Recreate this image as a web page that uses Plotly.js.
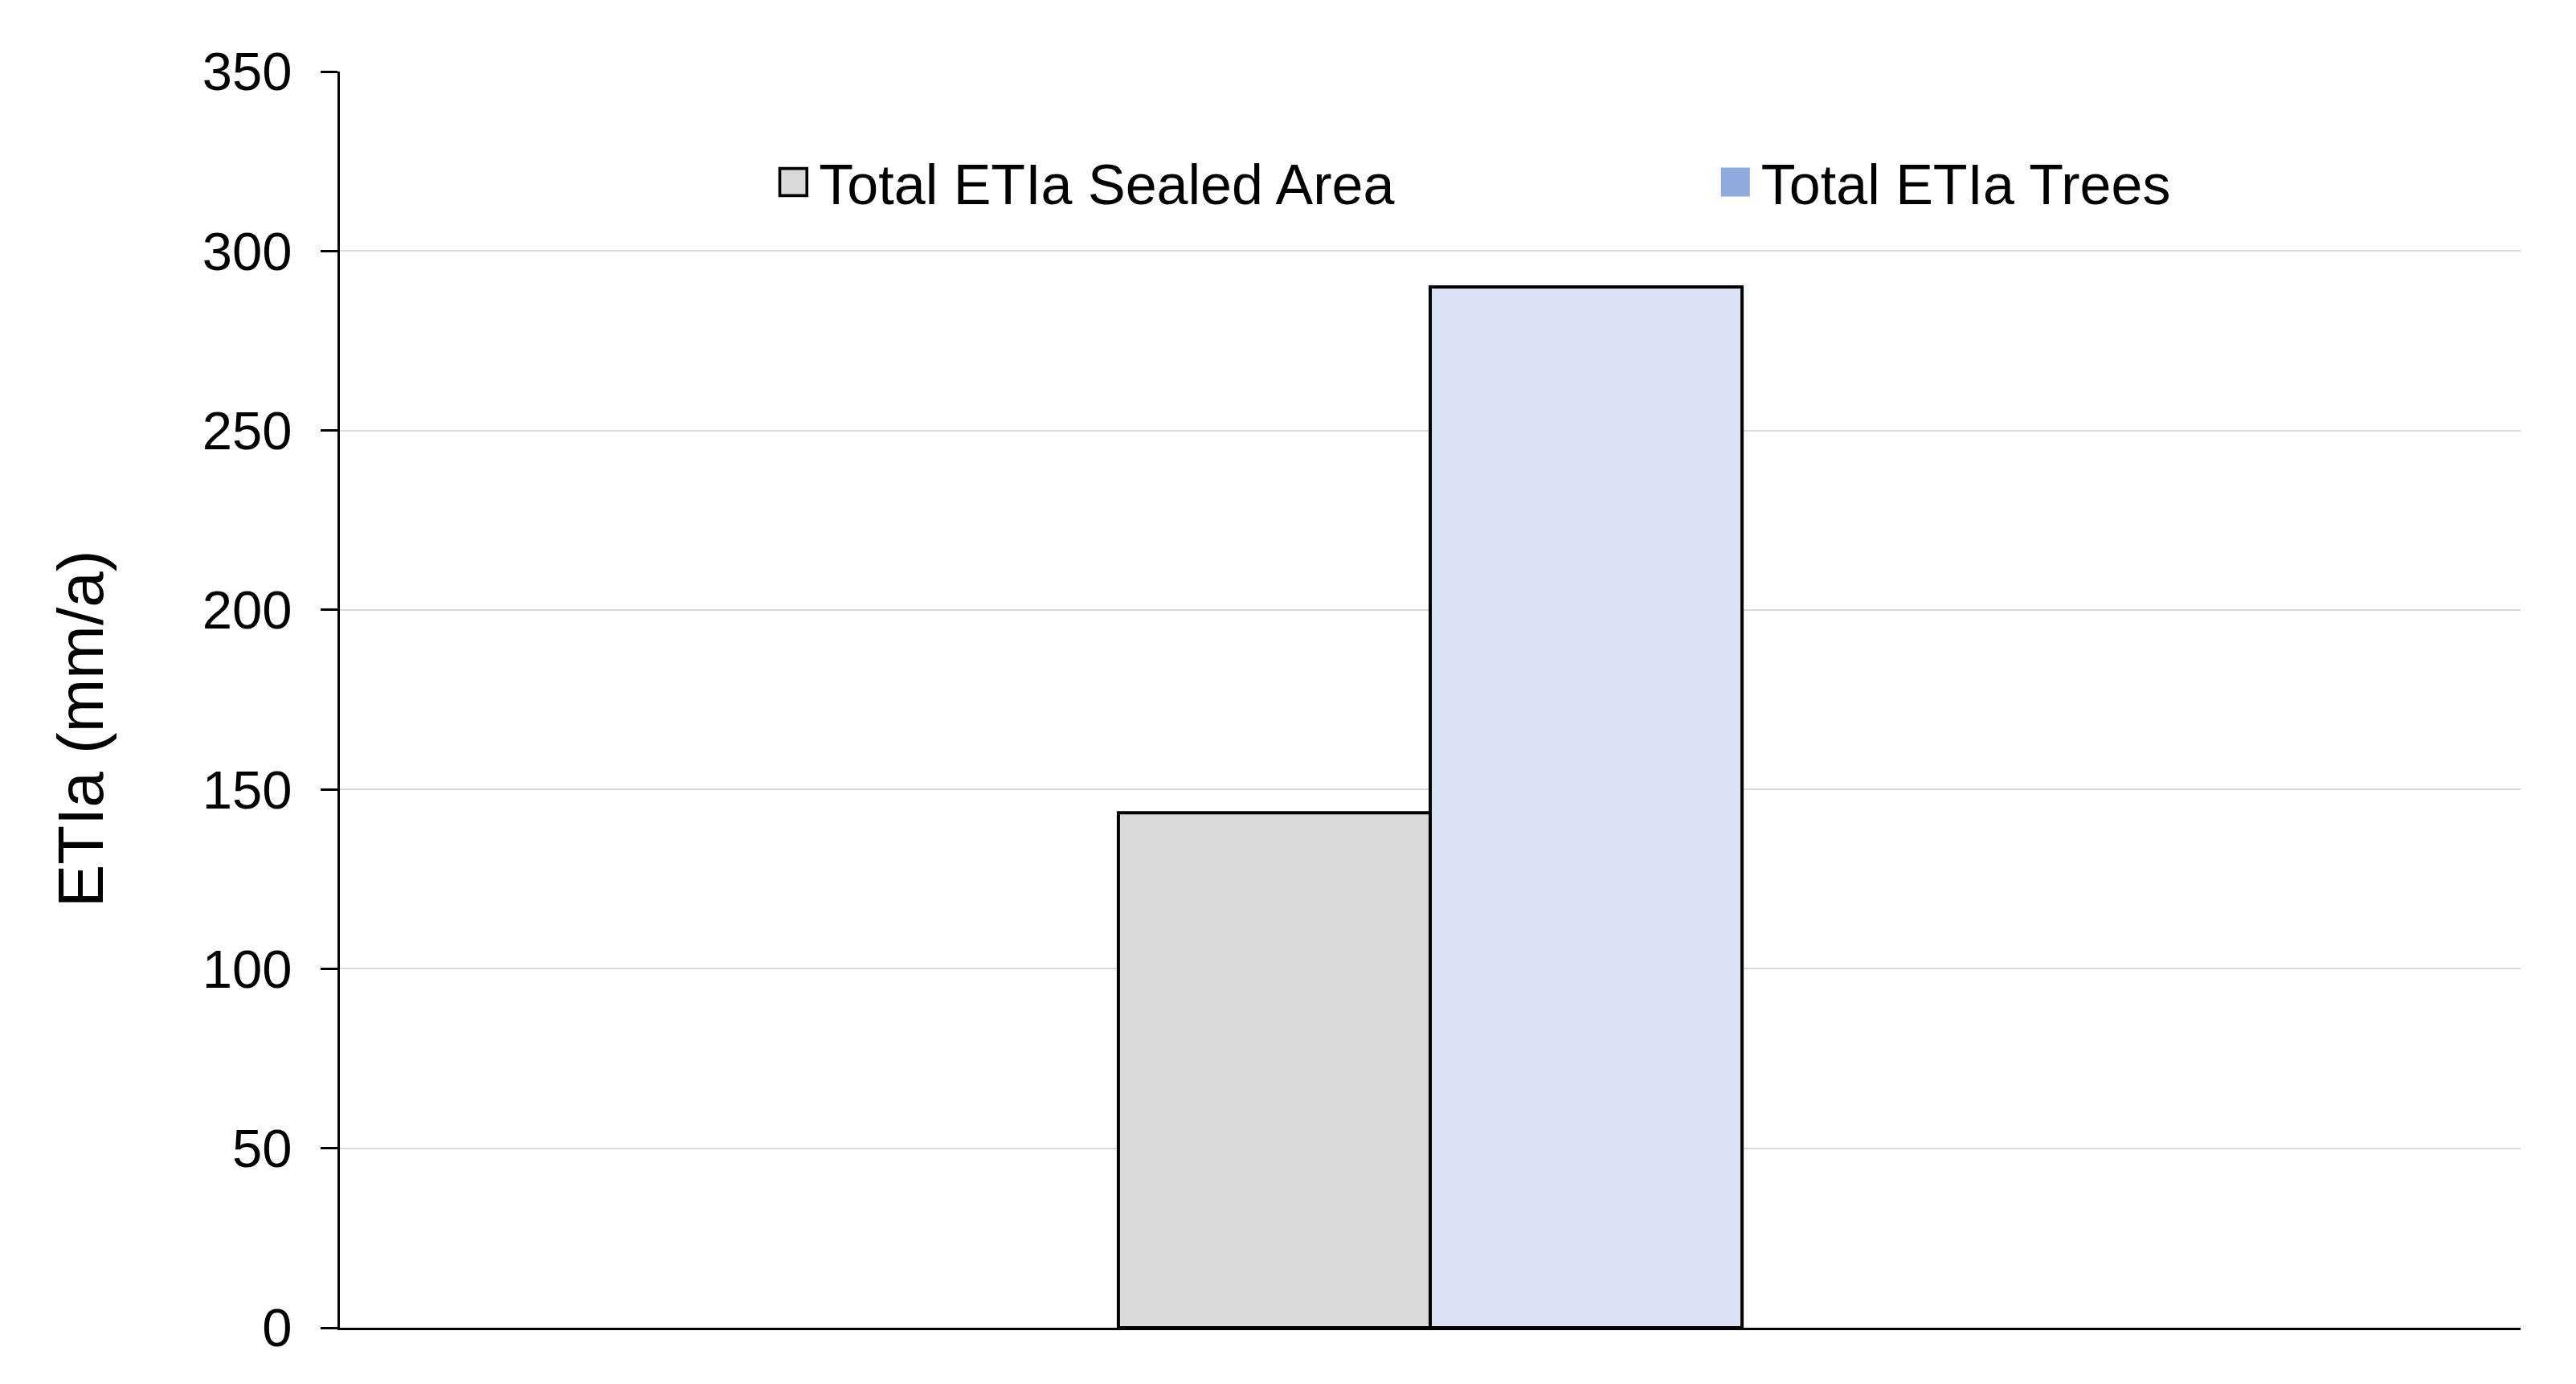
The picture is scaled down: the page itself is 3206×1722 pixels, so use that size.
<!DOCTYPE html>
<html>
<head>
<meta charset="utf-8">
<script src="https://cdn.plot.ly/plotly-3.0.1.min.js"></script>
<style>html,body{margin:0;padding:0;background:#fff;}#chart{width:3206px;height:1722px;}</style>
</head>
<body>
<div id="chart"></div>
<script>
// Data
const categories = ['Total'];
const seriesNames = ['Total ETIa Sealed Area', 'Total ETIa Trees'];
const sealedArea = [143.5];
const trees = [290];
const yTickValues = [0, 50, 100, 150, 200, 250, 300, 350];
const yAxisTitle = 'ETIa (mm/a)';

const FONT = 'Liberation Sans, Arial, sans-serif';

const traces = [
  {
    type: 'bar', x: categories, y: sealedArea, name: seriesNames[0], showlegend: false,
    marker: {color: '#d9d9d9', line: {color: '#000000', width: 4}}, hoverinfo: 'y'
  },
  {
    type: 'bar', x: categories, y: trees, name: seriesNames[1], showlegend: false,
    marker: {color: '#dae3f3', line: {color: '#000000', width: 4}}, hoverinfo: 'y'
  },
  // legend entries (legend swatches differ from bar fill in the reference)
  {
    type: 'scatter', mode: 'markers', x: [null], y: [null], name: seriesNames[0], legend: 'legend',
    marker: {symbol: 'square', size: 15, color: '#d9d9d9', line: {color: '#000000', width: 1.6}}
  },
  {
    type: 'scatter', mode: 'markers', x: [null], y: [null], name: seriesNames[1], legend: 'legend2',
    marker: {symbol: 'square', size: 16, color: '#8faadc', line: {width: 0}}
  }
];

const legendCommon = {
  orientation: 'h', xanchor: 'left', yanchor: 'middle',
  font: {family: FONT, size: 70, color: '#000000'},
  bgcolor: 'rgba(0,0,0,0)', borderwidth: 0
};

const layout = {
  width: 3206, height: 1722,
  paper_bgcolor: '#ffffff', plot_bgcolor: '#ffffff',
  font: {family: FONT, size: 67, color: '#000000'},
  margin: {l: 423, r: 69, t: 89, b: 70, pad: 0},
  barmode: 'group',
  bargap: 0.714,
  bargroupgap: 0,
  showlegend: true,
  legend: Object.assign({}, legendCommon, {x: 0.205, y: 0.912}),
  legend2: Object.assign({}, legendCommon, {x: 0.637, y: 0.912}),
  xaxis: {
    type: 'category', showticklabels: false, ticks: '',
    showline: true, linecolor: '#000000', linewidth: 3,
    showgrid: false, zeroline: false, fixedrange: true
  },
  yaxis: {
    range: [0, 350], tickvals: yTickValues, ticktext: yTickValues.map(String),
    ticks: 'outside', ticklen: 21, tickwidth: 3, tickcolor: '#000000',
    ticklabelstandoff: 22,
    showline: true, linecolor: '#000000', linewidth: 3,
    showgrid: true, gridcolor: '#d9d9d9', gridwidth: 2,
    zeroline: false,
    tickfont: {family: FONT, size: 67, color: '#000000'},
    automargin: false
  },
  annotations: [{
    text: yAxisTitle, xref: 'paper', yref: 'paper', x: -0.119, y: 0.4766,
    xanchor: 'center', yanchor: 'middle', textangle: -90, showarrow: false,
    font: {family: FONT, size: 80, color: '#000000'}
  }]
};

Plotly.newPlot('chart', traces, layout, {displayModeBar: false, staticPlot: true}).then(function (gd) {
  // let legend swatches extend beyond the legend box
  gd.querySelectorAll('.legend [clip-path], .legend2 [clip-path], g[class^="legend"] [clip-path]').forEach(function (el) {
    el.removeAttribute('clip-path');
  });
  // enlarge legend swatches to match the reference size and spacing
  gd.querySelectorAll('.legendpoints path.scatterpts').forEach(function (p) {
    const t = p.getAttribute('transform') || '';
    p.setAttribute('transform', 'translate(-12,0) ' + t + ' scale(2.25)');
  });
});
</script>
</body>
</html>
